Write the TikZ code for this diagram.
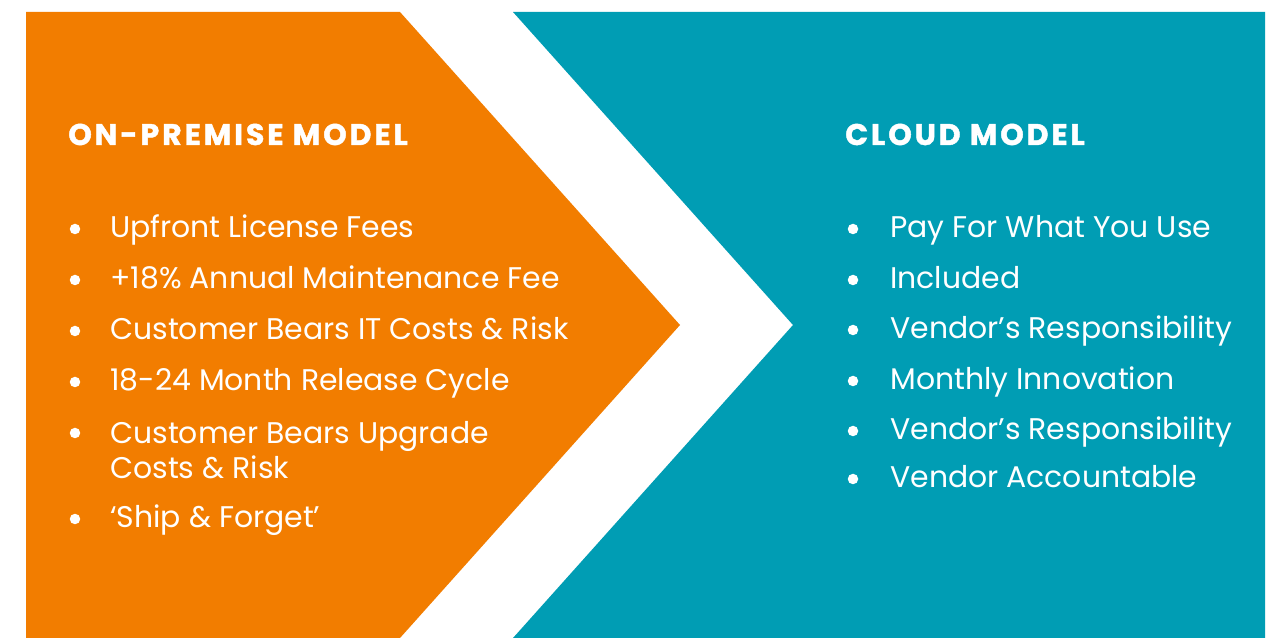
\documentclass[tikz,border=0pt]{standalone}
\usepackage{fontspec}
\setmainfont{Poppins}
\definecolor{naranja}{HTML}{F27D00}
\definecolor{turquesa}{HTML}{009DB4}

\begin{document}
\begin{tikzpicture}[x=0.02cm, y=-0.02cm, font=\fontsize{17}{19.8}\selectfont,
  titulo/.style={white, anchor=base west, inner sep=0pt,
    font=\fontsize{17}{19.8}\selectfont\bfseries\addfontfeatures{LetterSpace=10, FakeBold=1.5}},
  item/.style={white, anchor=base west, inner sep=0pt, align=left},
  punto/.style={circle, fill=white, inner sep=0pt, minimum size=0.21cm}]
  \useasboundingbox (0,0) rectangle (1272,638);
  \fill[white] (0,0) rectangle (1272,638);

  % Flecha naranja
  \fill[naranja] (26,12) -- (400,12) -- (680,325) -- (400,638) -- (26,638) -- cycle;
  % Bloque turquesa con muesca
  \fill[turquesa] (513,12) -- (1265,12) -- (1265,638) -- (513,638) -- (793,325) -- cycle;

  % Columna izquierda
  \node[titulo] (onprem) at (68,145) {ON-PREMISE MODEL};
  \node[punto] (p1) at (75,229) {};
  \node[item] (licencia) at (110,238) {Upfront License Fees};
  \node[punto] (p2) at (75,280) {};
  \node[item] (mantenimiento) at (110,289) {+18\% Annual Maintenance Fee};
  \node[punto] (p3) at (75,331) {};
  \node[item] (costes) at (110,340) {Customer Bears IT Costs \& Risk};
  \node[punto] (p4) at (75,382) {};
  \node[item] (ciclo) at (110,391) {18-24 Month Release Cycle};
  \node[punto] (p5) at (75,433) {};
  \node[item, anchor=north west] (upgrade) at (110,421) {Customer Bears Upgrade\\Costs \& Risk};
  \node[punto] (p6) at (75,519) {};
  \node[item] (olvido) at (110,528) {‘Ship \& Forget’};

  % Columna derecha
  \node[titulo] (nube) at (845,145) {CLOUD MODEL};
  \node[punto] (q1) at (853,229) {};
  \node[item] (uso) at (890,238) {Pay For What You Use};
  \node[punto] (q2) at (853,280) {};
  \node[item] (incluido) at (890,289) {Included};
  \node[punto] (q3) at (853,330) {};
  \node[item] (resp1) at (890,339) {Vendor’s Responsibility};
  \node[punto] (q4) at (853,381) {};
  \node[item] (innovacion) at (890,390) {Monthly Innovation};
  \node[punto] (q5) at (853,431) {};
  \node[item] (resp2) at (890,440) {Vendor’s Responsibility};
  \node[punto] (q6) at (853,479) {};
  \node[item] (vendedor) at (890,488) {Vendor Accountable};
\end{tikzpicture}
\end{document}
